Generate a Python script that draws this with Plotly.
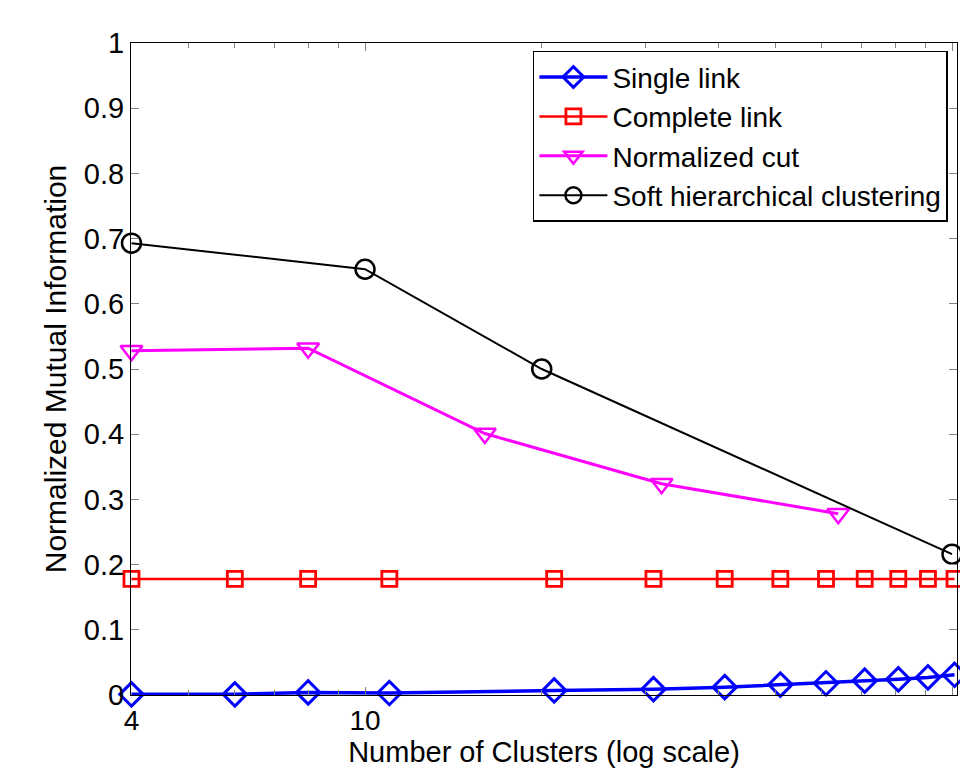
import math
import plotly.graph_objects as go

# ---- data ----
link_x = [4, 6, 8, 11, 21, 31, 41, 51, 61, 71, 81, 91, 101]
single_link = [0.001, 0.001, 0.004, 0.003, 0.007, 0.009, 0.012, 0.016, 0.018, 0.022, 0.024, 0.027, 0.031]
complete_link = [0.178] * 13
ncut_x = [4, 8, 16, 32, 64]
ncut = [0.528, 0.532, 0.401, 0.324, 0.278]
soft_x = [4, 10, 20, 100]
soft = [0.693, 0.653, 0.500, 0.216]

y_ticks = [0, 0.1, 0.2, 0.3, 0.4, 0.5, 0.6, 0.7, 0.8, 0.9, 1]
y_ticktext = ["0", "0.1", "0.2", "0.3", "0.4", "0.5", "0.6", "0.7", "0.8", "0.9", "1"]
x_ticks = [4, 10, 100]
x_ticktext = ["4", "10", "100"]
x_minor = [5, 6, 7, 8, 9, 20, 30, 40, 50, 60, 70, 80, 90]

FONT = "Liberation Sans, Arial, Helvetica, sans-serif"

fig = go.Figure()
fig.add_trace(go.Scatter(
    x=link_x, y=single_link, name="Single link", mode="lines+markers",
    line=dict(color="#0000FF", width=3.5),
    marker=dict(symbol="diamond-open", size=18, color="#0000FF", line=dict(width=3, color="#0000FF")),
    cliponaxis=False))
fig.add_trace(go.Scatter(
    x=link_x, y=complete_link, name="Complete link", mode="lines+markers",
    line=dict(color="#FF0000", width=2.5),
    marker=dict(symbol="square-open", size=15, color="#FF0000", line=dict(width=2.8, color="#FF0000")),
    cliponaxis=False))
fig.add_trace(go.Scatter(
    x=ncut_x, y=ncut, name="Normalized cut", mode="lines+markers",
    line=dict(color="#FF00FF", width=3),
    marker=dict(symbol="triangle-down-open", size=19, color="#FF00FF", line=dict(width=2.5, color="#FF00FF")),
    cliponaxis=False))
fig.add_trace(go.Scatter(
    x=soft_x, y=soft, name="Soft hierarchical clustering", mode="lines+markers",
    line=dict(color="#000000", width=2),
    marker=dict(symbol="circle-open", size=19, color="#000000", line=dict(width=2.5, color="#000000")),
    cliponaxis=False))

x_lo = math.log10(4) - 0.0008
x_hi = math.log10(4) + 827 / 588

fig.update_layout(
    width=960, height=768,
    margin=dict(l=131, r=2, t=43, b=71, pad=0),
    paper_bgcolor="white", plot_bgcolor="white",
    font=dict(family=FONT, size=29, color="black"),
    showlegend=True,
    legend=dict(
        x=0.989, y=0.988, xanchor="right", yanchor="top",
        bgcolor="white", bordercolor="black", borderwidth=1.5,
        font=dict(family=FONT, size=28, color="black"),
        itemwidth=68,
    ),
    xaxis=dict(
        type="log", range=[x_lo, x_hi],
        tickmode="array", tickvals=x_ticks, ticktext=x_ticktext,
        ticks="inside", ticklen=8, tickcolor="#7f7f7f", tickwidth=1,
        minor=dict(tickmode="array", tickvals=x_minor, ticks="inside", ticklen=5, tickcolor="#7f7f7f", showgrid=False),
        showline=True, linecolor="black", linewidth=1, mirror="allticks",
        showgrid=False, zeroline=False,
        tickfont=dict(size=28), ticklabelstandoff=0,
        title=dict(text="Number of Clusters (log scale)", font=dict(size=29), standoff=10),
    ),
    yaxis=dict(
        range=[0, 1],
        tickmode="array", tickvals=y_ticks, ticktext=y_ticktext,
        ticks="inside", ticklen=8, tickcolor="#7f7f7f", tickwidth=1,
        showline=True, linecolor="black", linewidth=1, mirror="allticks",
        showgrid=False, zeroline=False,
        tickfont=dict(size=29), ticklabelstandoff=0,
        title=dict(text="Normalized Mutual Information", font=dict(size=30), standoff=8),
    ),
)

fig.write_html("out.html")
